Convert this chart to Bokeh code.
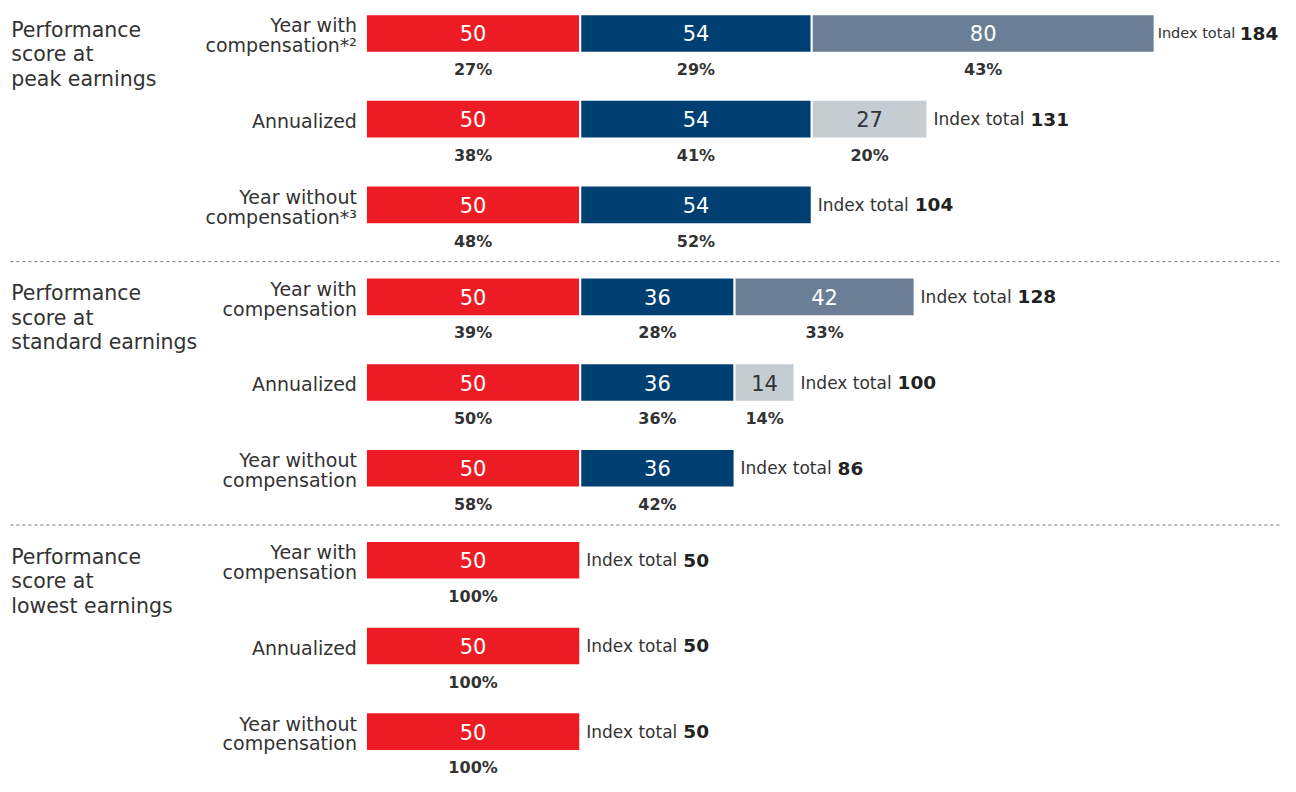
from bokeh.plotting import figure
from bokeh.models import ColumnDataSource, Range1d
from bokeh.core.properties import value
from bokeh.embed import file_html
from bokeh.resources import INLINE

# ---------------- data ----------------
group_labels = ["Performance\nscore at\npeak earnings",
                "Performance\nscore at\nstandard earnings",
                "Performance\nscore at\nlowest earnings"]
row_labels = ["Year with\ncompensation*²", "Annualized", "Year without\ncompensation*³",
              "Year with\ncompensation", "Annualized", "Year without\ncompensation",
              "Year with\ncompensation", "Annualized", "Year without\ncompensation"]
row_group = [0, 0, 0, 1, 1, 1, 2, 2, 2]
base_values = [50, 50, 50, 50, 50, 50, 50, 50, 50]
perf_values = [54, 54, 54, 36, 36, 36, 0, 0, 0]
extra_values = [80, 27, 0, 42, 14, 0, 0, 0, 0]
extra_kind = ["comp", "annual", "none", "comp", "annual", "none", "none", "none", "none"]
index_totals = [184, 131, 104, 128, 100, 86, 50, 50, 50]
base_pct = [27, 38, 48, 39, 50, 58, 100, 100, 100]
perf_pct = [29, 41, 52, 28, 36, 42, None, None, None]
extra_pct = [43, 20, None, 33, 14, None, None, None, None]

# ---------------- style ----------------
FONT = "DejaVu Sans"
RED = "#ED1C24"
NAVY = "#003F72"
SLATE = "#6A7F96"
LIGHT = "#C5CDD3"
TXT = "#333333"

ROW_STEP = 87.7
GROUP_GAP = 6.4
ROW_TOP = 34.7


def row_y(i):
    return ROW_TOP + i * ROW_STEP + row_group[i] * GROUP_GAP


X0, X1 = -85.25, 213.36
p = figure(width=1280, height=776, x_range=Range1d(X0, X1), y_range=Range1d(795, 1),
           output_backend="svg", toolbar_location=None, min_border=0,
           x_axis_location=None, y_axis_location=None)
p.grid.visible = False
p.outline_line_color = None
p.background_fill_color = "white"
p.border_fill_color = "white"

# segments
seg = dict(y=[], left=[], right=[], color=[], cx=[], val=[], vcol=[], pct=[])
for i in range(len(row_labels)):
    y = row_y(i)
    parts = [(base_values[i], RED, "white", base_pct[i]),
             (perf_values[i], NAVY, "white", perf_pct[i])]
    if extra_values[i]:
        parts.append((extra_values[i], SLATE if extra_kind[i] == "comp" else LIGHT,
                      "white" if extra_kind[i] == "comp" else TXT, extra_pct[i]))
    start = 0
    for v, c, tc, pc in parts:
        if v <= 0:
            continue
        seg["y"].append(y)
        seg["left"].append(start)
        seg["right"].append(start + v)
        seg["color"].append(c)
        seg["cx"].append(start + v / 2)
        seg["val"].append(str(v))
        seg["vcol"].append(tc)
        seg["pct"].append(f"{pc}%" if pc is not None else "")
        start += v
src = ColumnDataSource(seg)
p.hbar(y="y", left="left", right="right", height=39.5, fill_color="color",
       line_color="white", line_width=2, source=src)
p.text(x="cx", y="y", text="val", text_color="vcol", text_align="center",
       text_baseline="middle", text_font=value(FONT), text_font_size="21px", source=src)
src_pct = ColumnDataSource(dict(x=seg["cx"], y=[v + 37 for v in seg["y"]], t=seg["pct"]))
p.text(x="x", y="y", text="t", text_color=TXT, text_align="center", text_baseline="middle",
       text_font=value(FONT), text_font_size="16px", text_font_style="bold", source=src_pct)

# index totals
ys = [row_y(i) for i in range(len(row_labels))]
lab_size = ["14.5px" if i == 0 else "17px" for i in range(len(row_labels))]
lab_off = [3 if i == 0 else 6 for i in range(len(row_labels))]
num_off = [85 if i == 0 else 103 for i in range(len(row_labels))]
src_tot = ColumnDataSource(dict(x=index_totals, y=ys, fs=lab_size, lo=lab_off,
                                t=["Index total"] * len(ys),
                                n=[str(v) for v in index_totals], off=num_off))
p.text(x="x", y="y", text="t", x_offset="lo", text_color=TXT, text_align="left",
       text_baseline="middle", text_font=value(FONT), text_font_size="fs", source=src_tot)
p.text(x="x", y="y", text="n", x_offset="off", text_color="#222222", text_align="left",
       text_baseline="middle", text_font=value(FONT), text_font_size="18.5px",
       text_font_style="bold", source=src_tot)

# row labels
src_rows = ColumnDataSource(dict(x=[0] * len(ys), y=[v + 2 for v in ys], t=row_labels))
p.text(x="x", y="y", text="t", x_offset=-9, text_color=TXT, text_align="right",
       text_baseline="middle", text_font=value(FONT), text_font_size="19px",
       text_line_height=0.9, source=src_rows)

# group labels
g_first = [row_group.index(g) for g in range(len(group_labels))]
src_g = ColumnDataSource(dict(x=[X0 + 2.5] * len(group_labels),
                              y=[row_y(i) - 16 for i in g_first], t=group_labels))
p.text(x="x", y="y", text="t", text_color=TXT, text_align="left",
       text_baseline="top", text_font=value(FONT), text_font_size="20.5px",
       text_line_height=1.02, source=src_g)

# dotted separators
sep_y = [row_y(i) - 36 for i in g_first[1:]]
p.segment(x0=[X0 + 2.3] * len(sep_y), x1=[X1] * len(sep_y), y0=sep_y, y1=sep_y,
          line_color="#777777", line_width=1, line_dash="3 3")

open("out.html", "w").write(file_html(p, INLINE))
